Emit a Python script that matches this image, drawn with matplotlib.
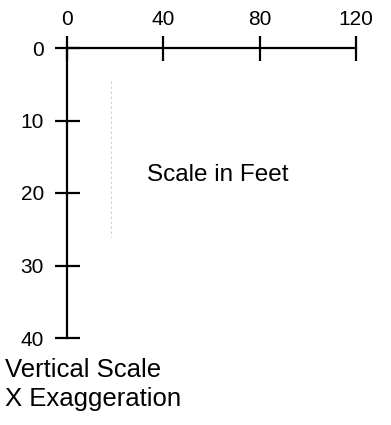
import matplotlib
matplotlib.use("Agg")
import matplotlib.pyplot as plt

plt.rcParams['font.family'] = ['Liberation Sans', 'DejaVu Sans']

# scale bar values (feet)
x_ticks = [0, 40, 80, 120]
y_ticks = [0, 10, 20, 30, 40]
scale_label = "Scale in Feet"
vert_label = ["Vertical Scale", "X Exaggeration"]
faint_x = 18.3          # faint scan line seen in the picture
faint_y = [4.5, 26]

fig = plt.figure(figsize=(3.91, 4.25), dpi=100)
ax = fig.add_axes([67 / 391, 1 - 338 / 425, 289 / 391, 290 / 425])

ax.set_xlim(x_ticks[0], x_ticks[-1])
ax.set_ylim(y_ticks[-1], y_ticks[0])

for s in ['bottom', 'right']:
    ax.spines[s].set_visible(False)
for s in ['top', 'left']:
    ax.spines[s].set_linewidth(1.6)

ax.xaxis.tick_top()
ax.set_xticks(x_ticks)
ax.set_yticks(y_ticks)
ax.tick_params(axis='both', direction='inout', length=18, width=1.6,
               labelsize=15)
ax.tick_params(axis='x', pad=5)
ax.tick_params(axis='y', pad=7.5)
for t in ax.xaxis.get_major_ticks() + ax.yaxis.get_major_ticks():
    t.tick1line.set_clip_on(False)
    t.tick2line.set_clip_on(False)

# faint dashed artifact
ax.plot([faint_x, faint_x], faint_y, color='#c8c8c8', lw=0.6,
        ls=(0, (3, 3)))

ax.patch.set_visible(False)

fig.text(147 / 391, 1 - 181 / 425, scale_label, fontsize=17.5, va='baseline')
fig.text(5 / 391, 1 - 377 / 425, vert_label[0], fontsize=18.5, va='baseline')
fig.text(5 / 391, 1 - 406 / 425, vert_label[1], fontsize=18.5, va='baseline')

fig.savefig("out.png", dpi=100)
